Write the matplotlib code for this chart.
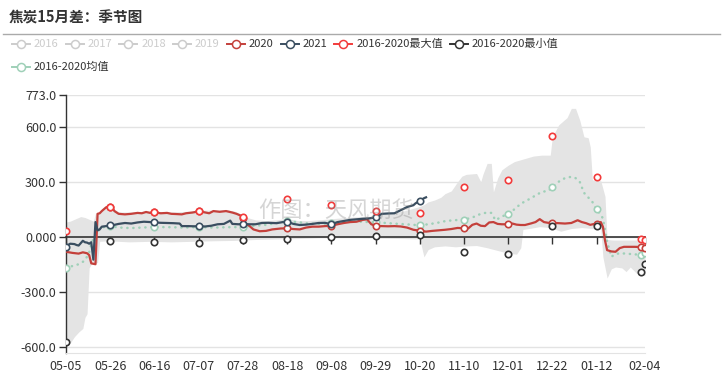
import matplotlib
matplotlib.use('Agg')
import matplotlib.pyplot as plt
from matplotlib.lines import Line2D
import numpy as np

plt.rcParams['font.family'] = ['Noto Sans CJK SC', 'DejaVu Sans']

# ---------------- data ----------------
title = '焦炭15月差：季节图'
watermark = '作图：天风期货'
legend_labels = ['2016', '2017', '2018', '2019', '2020', '2021',
                 '2016-2020最大值', '2016-2020最小值', '2016-2020均值']

x_tick_days = [0, 21, 42, 63, 84, 105, 126, 147, 168, 189, 210, 231, 252, 275]
x_tick_labels = ['05-05', '05-26', '06-16', '07-07', '07-28', '08-18', '09-08',
                 '09-29', '10-20', '11-10', '12-01', '12-22', '01-12', '02-04']
y_ticks = [-600, -300, 0, 300, 600, 773]
y_tick_labels = ['-600.0', '-300.0', '0.000', '300.0', '600.0', '773.0']
y_min, y_max = -634, 773
x_end = 275

marker_days = [0, 21, 42, 63, 84, 105, 126, 147, 168, 189, 210, 231, 252, 273, 275]

# 2020 season
s2020_days = [0, 3, 6, 8, 10, 11, 12, 14, 15, 16, 17, 18, 19, 20, 21, 22, 23, 25, 28, 31,
              34, 36, 38, 40, 42, 45, 48, 50, 52, 55, 57, 60, 63, 65, 68, 70, 73, 76, 79,
              81, 83, 84, 85, 87, 89, 92, 95, 98, 102, 105, 108, 111, 114, 117, 120, 123,
              126, 129, 132, 135, 138, 141, 143, 145, 147, 150, 153, 156, 159, 162, 165,
              168, 171, 174, 177, 180, 183, 186, 189, 191, 193, 195, 197, 199, 201, 203,
              205, 207, 210, 212, 214, 216, 218, 221, 223, 225, 227, 229, 231, 234, 237,
              240, 243, 245, 247, 249, 251, 252, 254, 255, 256, 257, 259, 261, 263, 265,
              270, 273, 275]
s2020_vals = [-82, -88, -92, -85, -90, -100, -145, -150, 125, 128, 140, 150, 160, 165, 162,
              158, 140, 125, 122, 125, 130, 128, 135, 130, 133, 128, 130, 125, 124, 122,
              128, 132, 138, 135, 128, 140, 136, 140, 132, 125, 115, 100, 72, 60, 40, 30,
              32, 40, 45, 46, 42, 40, 50, 55, 55, 58, 60, 68, 75, 80, 82, 92, 95, 68, 60,
              58, 57, 58, 56, 50, 38, 33, 28, 32, 35, 38, 42, 48, 46, 45, 65, 72, 60, 58,
              78, 80, 70, 68, 68, 72, 66, 64, 64, 73, 80, 96, 80, 76, 76, 74, 72, 75, 90,
              80, 74, 65, 70, 69, 80, 55, -20, -73, -80, -82, -62, -55, -55, -56, -62]

# 2021 season (to date)
s2021_days = [0, 1, 2, 4, 5, 6, 7, 8, 9, 10, 11, 12, 13, 14, 15, 16, 17, 19, 21, 23, 25,
              28, 31, 34, 37, 40, 42, 45, 48, 51, 54, 55, 58, 61, 63, 66, 69, 72, 75, 78,
              79, 82, 84, 87, 90, 93, 96, 100, 103, 105, 108, 111, 114, 117, 120, 123, 126,
              129, 132, 135, 138, 141, 144, 147, 150, 153, 156, 159, 162, 165, 166, 168,
              170, 171]
s2021_vals = [-58, -45, -38, -40, -45, -48, -35, -22, -30, -32, -38, -30, -125, 80, 35, 40,
              55, 58, 62, 65, 70, 75, 72, 78, 82, 80, 78, 76, 75, 74, 72, 58, 58, 57, 58,
              56, 60, 68, 70, 88, 70, 68, 70, 68, 68, 75, 76, 74, 80, 82, 70, 64, 66, 70,
              75, 76, 68, 80, 86, 92, 95, 98, 100, 106, 125, 127, 128, 145, 162, 172, 182,
              196, 210, 215]

# 2016-2020 mean
mean_days = [0, 3, 6, 9, 11, 12, 13, 14, 15, 17, 19, 21, 24, 28, 32, 36, 42, 50, 56, 63,
             70, 77, 84, 90, 95, 100, 105, 110, 115, 120, 126, 130, 135, 140, 144, 147,
             152, 158, 164, 168, 172, 176, 180, 184, 189, 193, 197, 200, 202, 204, 207,
             210, 213, 216, 220, 223, 226, 229, 231, 234, 237, 240, 242, 244, 246, 248,
             250, 252, 254, 255, 257, 259, 261, 263, 266, 270, 273, 275]
mean_vals = [-169, -160, -150, -130, -85, -40, -10, 10, 30, 50, 55, 60, 52, 48, 48, 50, 53,
             52, 50, 53, 50, 52, 53, 60, 65, 75, 84, 80, 72, 70, 73, 78, 82, 82, 80, 78,
             75, 70, 66, 62, 68, 75, 85, 90, 93, 105, 125, 132, 130, 90, 110, 125, 150,
             180, 205, 225, 245, 250, 269, 300, 320, 327, 320, 300, 240, 215, 190, 149,
             120, 100, -27, -109, -95, -90, -92, -96, -98, -91]

# 2016-2020 max / min (shown as symbols)
max_vals = [29, 162, 133, 138, 109, 204, 171, 142, 127, 269, 311, 549, 327, -14, -18]
min_vals = [-572, -23, -29, -33, -20, -11, -3, 4, 8, -85, -93, 58, 58, -191, -149]

# range band (2016-2020 envelope)
band_up_days = [0, 2, 5, 7, 9, 11, 12, 13, 14, 17, 19, 21, 23, 25, 30, 40, 50, 60, 65, 70,
                76, 80, 83, 84, 86, 90, 95, 100, 105, 110, 115, 120, 126, 130, 135, 140,
                145, 150, 155, 160, 165, 168, 170, 172, 175, 178, 180, 183, 186, 188, 190,
                195, 197, 198, 200, 202, 203, 205, 207, 210, 213, 216, 219, 222, 226, 230,
                231, 234, 236, 238, 240, 242, 244, 246, 248, 249, 250, 254, 256, 257, 260,
                275]
band_up_vals = [80, 85, 100, 110, 105, 95, 90, 85, 128, 140, 165, 165, 150, 135, 135, 140,
                135, 140, 145, 145, 148, 140, 125, 115, 105, 92, 88, 92, 100, 88, 88, 92, 98,
                102, 106, 110, 112, 125, 130, 140, 155, 165, 175, 190, 200, 215, 235, 250,
                300, 330, 340, 345, 300, 340, 400, 400, 245, 320, 365, 390, 410, 420, 430,
                440, 445, 445, 545, 610, 630, 650, 700, 700, 636, 545, 540, 490, 310, 305,
                220, -15, -18, -18]
band_lo_days = [0, 2, 4, 6, 8, 9, 10, 11, 12, 14, 15, 16, 20, 30, 40, 50, 60, 70, 80, 90,
                100, 110, 120, 130, 140, 150, 160, 166, 168, 170, 172, 175, 180, 185, 190,
                195, 200, 205, 210, 214, 216, 217, 220, 225, 230, 235, 240, 245, 250, 254,
                255, 257, 259, 261, 264, 266, 268, 271, 275]
band_lo_vals = [-575, -580, -545, -520, -500, -440, -420, -170, -150, -145, -140, -25, -22,
                -28, -25, -28, -25, -22, -20, -15, -12, -10, -5, -5, -5, -8, -10, -12, -10,
                -110, -70, -55, -50, -55, -50, -48, -60, -75, -90, -95, -60, 40, 45, 55, 50,
                30, 45, 50, 45, 40, -110, -225, -175, -165, -170, -190, -165, -200, -210]

# ---------------- colours ----------------
c2020 = '#c4403b'
c2021 = '#3a4e60'
cmax = '#f23b3b'
cmin = '#333333'
cmean = '#9fd0b8'
cband = '#e4e4e4'
cdisabled = '#cccccc'

W, H = 723, 379
fig = plt.figure(figsize=(W / 100, H / 100), dpi=100)
fig.patch.set_facecolor('white')


def fx(px):
    return px / W


def fy(py):
    return 1 - py / H


ax = fig.add_axes([fx(66), fy(353), fx(645) - fx(66), fy(95) - fy(353)])
ax.set_xlim(0, x_end)
ax.set_ylim(y_min, y_max)

# band: envelope sampled on the union of its own day points
band_days = sorted(set(band_up_days) | set(band_lo_days))
ax.fill_between(band_days, np.interp(band_days, band_lo_days, band_lo_vals),
                np.interp(band_days, band_up_days, band_up_vals),
                color=cband, lw=0, zorder=1)


def idx(days):
    return [i for i, d in enumerate(days) if d in marker_days]


mk = dict(marker='o', markersize=4.6, markerfacecolor='white', markeredgewidth=1.2)
ax.plot(mean_days, mean_vals, color=cmean, lw=1.8, linestyle=(0, (0.1, 2.3)),
        dash_capstyle='round', markevery=idx(mean_days), markeredgecolor=cmean,
        zorder=3, **mk)
ax.plot(s2020_days, s2020_vals, color=c2020, lw=1.6, markevery=idx(s2020_days)[1:],
        markeredgecolor=c2020, zorder=4, **mk)
ax.plot(s2021_days, s2021_vals, color=c2021, lw=1.6, markevery=idx(s2021_days),
        markeredgecolor=c2021, zorder=5, **mk)
ax.plot(marker_days, max_vals, linestyle='none', markeredgecolor=cmax, zorder=6, **mk)
ax.plot(marker_days, min_vals, linestyle='none', markeredgecolor=cmin, zorder=6, **mk)

# axes styling
ax.set_yticks(y_ticks)
ax.set_yticklabels(y_tick_labels)
ax.set_xticks(x_tick_days)
ax.set_xticklabels(x_tick_labels)
ax.yaxis.grid(True, color='#e3e3e3', lw=1, zorder=0)
ax.set_axisbelow(True)
for s in ['top', 'right']:
    ax.spines[s].set_visible(False)
ax.spines['left'].set_color('#333333')
ax.spines['left'].set_linewidth(1)
ax.spines['bottom'].set_color('#e3e3e3')
ax.tick_params(axis='y', length=5, width=1, color='#333333', labelsize=9,
               labelcolor='#333333', pad=2)
ax.tick_params(axis='x', length=0, labelsize=9, labelcolor='#333333', pad=5)

frac = (0 - y_min) / (y_max - y_min)
sec = ax.secondary_xaxis(frac)
sec.set_xticks(x_tick_days)
sec.tick_params(axis='x', length=5, width=1, color='#333333', labelbottom=False,
                labeltop=False, direction='out')
for s in sec.spines.values():
    s.set_color('#333333')
    s.set_linewidth(1.2)
sec.set_zorder(2)

# watermark
fig.text(fx(336), fy(211), watermark, fontsize=16, color='#888888', alpha=0.35,
         ha='center', va='center', zorder=10)

# title
fig.text(fx(9), fy(18), title, fontsize=10.5, fontweight='bold', color='#333333',
         ha='left', va='center')
fig.add_artist(Line2D([fx(3), fx(720)], [fy(34), fy(34)], color='#aaaaaa', lw=1,
                      transform=fig.transFigure))

# legend (laid out left to right, wrapping to a second row)
leg_colors = [cdisabled] * 4 + [c2020, c2021, cmax, cmin, cmean]
leg_text_colors = [cdisabled] * 4 + ['#333333'] * 5
renderer = fig.canvas.get_renderer()
px, py = 12, 44
for i, (lab, col, tcol) in enumerate(zip(legend_labels, leg_colors, leg_text_colors)):
    if i == 8:
        px, py = 12, 67
    fig.add_artist(Line2D([fx(px), fx(px + 18)], [fy(py), fy(py)], color=col, lw=1.4,
                          transform=fig.transFigure))
    fig.add_artist(Line2D([fx(px + 9)], [fy(py)], marker='o', markersize=5.8,
                          markerfacecolor='white', markeredgecolor=col,
                          markeredgewidth=1.1, transform=fig.transFigure))
    t = fig.text(fx(px + 22), fy(py), lab, fontsize=8, color=tcol, ha='left',
                 va='center')
    w = t.get_window_extent(renderer).width
    px = px + 22 + w + 7

fig.savefig('out.png', dpi=100, facecolor='white')
